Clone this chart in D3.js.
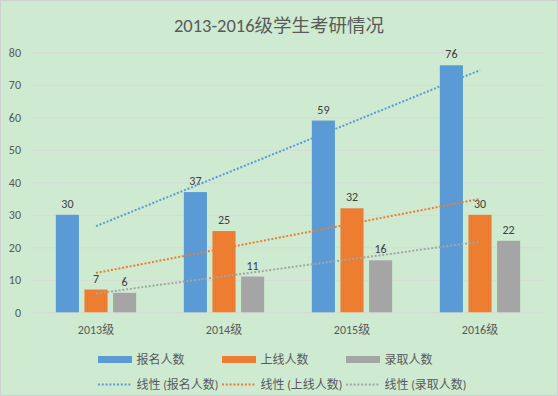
<!DOCTYPE html>
<html>
<head>
<meta charset="utf-8">
<script src="https://cdn.jsdelivr.net/npm/d3@7/dist/d3.min.js"></script>
<style>
  html, body { margin: 0; padding: 0; background: #fff; }
  svg text { font-family: Carlito, "Liberation Sans", "Noto Sans CJK SC", sans-serif; }
</style>
</head>
<body>
<svg id="chart" width="558" height="396"></svg>
<script>
const title = "2013-2016级学生考研情况";
const categories = ["2013级", "2014级", "2015级", "2016级"];
const seriesNames = ["报名人数", "上线人数", "录取人数"];
const applied = [30, 37, 59, 76];
const passed = [7, 25, 32, 30];
const admitted = [6, 11, 16, 22];
const yTicks = [0, 10, 20, 30, 40, 50, 60, 70, 80];
const colors = ["#5B9BD5", "#ED7D31", "#A5A5A5"];

const seriesValues = [applied, passed, admitted];

// Dimensions
const width = 558;
const height = 396;
const plot = { left: 32, right: 544, top: 52.3, bottom: 312.3 };

const svg = d3.select("#chart");

// background + border
svg.append("rect")
  .attr("x", 0.5).attr("y", 0.5)
  .attr("width", width - 1).attr("height", height - 1)
  .attr("fill", "#CEEAD0")
  .attr("stroke", "#D0D0D0");

// Scales
const x0 = d3.scaleBand()
  .domain(categories)
  .range([plot.left, plot.right]);

const x1 = d3.scaleBand()
  .domain(seriesNames)
  .range([0, x0.bandwidth()])
  .paddingInner(0.193)
  .paddingOuter(0.833);

const y = d3.scaleLinear()
  .domain([0, 80])
  .range([plot.bottom, plot.top]);

// Title
svg.append("text")
  .attr("x", 279)
  .attr("y", 32)
  .attr("text-anchor", "middle")
  .attr("font-size", 18.5)
  .attr("fill", "#595959")
  .text(title);

// Y axis with gridlines
const yAxis = svg.append("g")
  .attr("transform", `translate(${plot.left},0)`)
  .call(d3.axisLeft(y).tickValues(yTicks).tickSize(-(plot.right - plot.left)).tickPadding(11));
yAxis.select(".domain").remove();
yAxis.selectAll("line").attr("stroke", "#D9D9D9");
yAxis.selectAll("text").attr("font-size", 12).attr("fill", "#595959");

// X axis
const xAxis = svg.append("g")
  .attr("transform", `translate(0,${plot.bottom})`)
  .call(d3.axisBottom(x0).tickSize(0).tickPadding(13));
xAxis.select(".domain").remove();
xAxis.selectAll("text").attr("font-size", 12).attr("fill", "#595959");

// Bars
const rows = categories.map((c, i) => ({
  cat: c,
  vals: seriesNames.map((s, j) => ({ s, j, v: seriesValues[j][i] }))
}));

const groups = svg.selectAll(".grp")
  .data(rows)
  .enter()
  .append("g")
  .attr("class", "grp")
  .attr("transform", d => `translate(${x0(d.cat)},0)`);

groups.selectAll("rect")
  .data(d => d.vals)
  .enter()
  .append("rect")
  .attr("x", d => x1(d.s))
  .attr("y", d => y(d.v))
  .attr("width", x1.bandwidth())
  .attr("height", d => y(0) - y(d.v))
  .attr("fill", d => colors[d.j]);

groups.selectAll("text.lbl")
  .data(d => d.vals)
  .enter()
  .append("text")
  .attr("class", "lbl")
  .attr("x", d => x1(d.s) + x1.bandwidth() / 2)
  .attr("y", d => y(d.v) - 7)
  .attr("text-anchor", "middle")
  .attr("font-size", 12)
  .attr("fill", "#404040")
  .text(d => d.v);

// Linear trendlines (least squares over category index, like Excel)
function linearFit(vals) {
  const n = vals.length;
  const xs = vals.map((_, i) => i + 1);
  const mx = d3.mean(xs), my = d3.mean(vals);
  const slope = d3.sum(xs, (xv, i) => (xv - mx) * (vals[i] - my)) / d3.sum(xs, xv => (xv - mx) ** 2);
  return xv => my + slope * (xv - mx);
}

const trendLine = d3.line()
  .x(d => x0(categories[d.i]) + x0.bandwidth() / 2)
  .y(d => y(d.v));

seriesValues.forEach((vals, j) => {
  const f = linearFit(vals);
  const pts = [0, categories.length - 1].map(i => ({ i, v: f(i + 1) }));
  svg.append("path")
    .attr("d", trendLine(pts))
    .attr("fill", "none")
    .attr("stroke", colors[j])
    .attr("stroke-width", 2)
    .attr("stroke-dasharray", "2 1.8");
});

// Legend
const legendCols = [98, 222, 346];
const legend = svg.append("g");

seriesNames.forEach((name, j) => {
  legend.append("rect")
    .attr("x", legendCols[j])
    .attr("y", 356)
    .attr("width", 34)
    .attr("height", 7)
    .attr("fill", colors[j]);
  legend.append("text")
    .attr("x", legendCols[j] + 38.5)
    .attr("y", 364)
    .attr("font-size", 12)
    .attr("fill", "#595959")
    .text(name);

  legend.append("line")
    .attr("x1", legendCols[j])
    .attr("x2", legendCols[j] + 34)
    .attr("y1", 384.5)
    .attr("y2", 384.5)
    .attr("stroke", colors[j])
    .attr("stroke-width", 2)
    .attr("stroke-dasharray", "2 1.8");
  legend.append("text")
    .attr("x", legendCols[j] + 38.5)
    .attr("y", 389)
    .attr("font-size", 12)
    .attr("fill", "#595959")
    .text(`线性 (${name})`);
});
</script>
</body>
</html>
